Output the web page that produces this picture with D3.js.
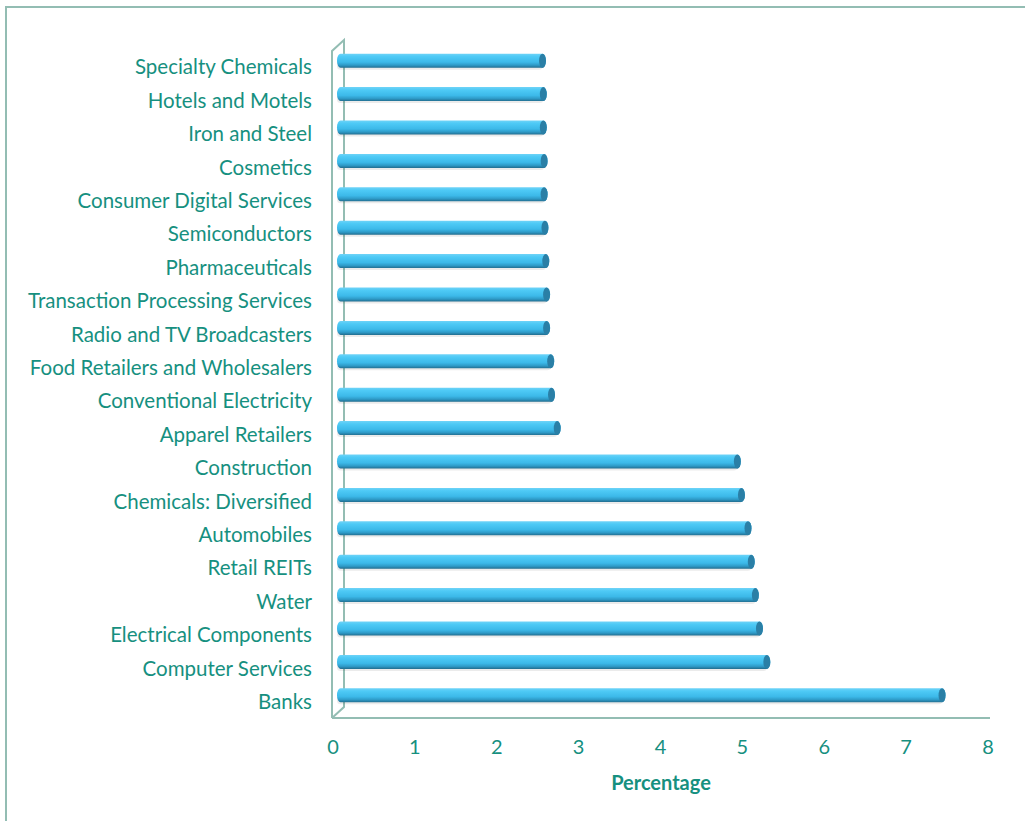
<!DOCTYPE html>
<html><head><meta charset="utf-8">
<script src="https://cdn.jsdelivr.net/npm/d3@7"></script>
<style>body{margin:0;background:#fff}svg{display:block}</style>
</head><body>
<script>
const categories = ["Specialty Chemicals","Hotels and Motels","Iron and Steel","Cosmetics","Consumer Digital Services","Semiconductors","Pharmaceuticals","Transaction Processing Services","Radio and TV Broadcasters","Food Retailers and Wholesalers","Conventional Electricity","Apparel Retailers","Construction","Chemicals: Diversified","Automobiles","Retail REITs","Water","Electrical Components","Computer Services","Banks"];
const values = [2.51,2.52,2.52,2.53,2.53,2.54,2.55,2.56,2.56,2.61,2.62,2.69,4.89,4.94,5.02,5.06,5.11,5.16,5.25,7.39];
const xTicks = [0,1,2,3,4,5,6,7,8];
const xTitle = "Percentage";

const W=1025,H=821;
const svg=d3.select("body").append("svg").attr("width",W).attr("height",H);
const txt="#16907f", frame="#93bdb3";
const font="Lato, 'Open Sans', sans-serif";

const x=d3.scaleLinear().domain([0,8]).range([333,988]);
const y=d3.scaleBand().domain(categories).range([49,717]).paddingInner(0.6).paddingOuter(0.3);

const defs=svg.append("defs");
const g=defs.append("linearGradient").attr("id","cyl").attr("x1",0).attr("y1",0).attr("x2",0).attr("y2",1);
[[0,"#6fd3f7"],[0.2,"#4ecaf6"],[0.6,"#3cb9e9"],[0.82,"#2e9ac7"],[1,"#226e90"]].forEach(s=>g.append("stop").attr("offset",s[0]).attr("stop-color",s[1]));

// outer border
svg.append("path").attr("d",`M6,${H+2}V7H${W+2}`).attr("fill","none").attr("stroke",frame).attr("stroke-width",2);

// 3D frame
const dx=11, dy=11;
const fr=svg.append("g").attr("fill","none").attr("stroke",frame).attr("stroke-width",2);
fr.append("path").attr("d",`M${x(0)-1},${718}V${51}L${x(0)+dx},${40}V${718-dy}L${x(0)-1},${718}`);
fr.append("line").attr("x1",x(0)-1).attr("x2",990).attr("y1",718).attr("y2",718);

// bars
const bh=14, off=4;
const bars=svg.append("g");
categories.forEach((c,i)=>{
  const yc=y(c)+y.bandwidth()/2-5;
  const x0=x(0)+off, x1=x(values[i])+off;
  const r=bh/2, rx=3.5;
  bars.append("rect").attr("x",x0).attr("y",yc-r+2).attr("width",x1-x0).attr("height",bh).attr("rx",rx).attr("fill","#000").attr("opacity",0.08);
  bars.append("path").attr("d",`M${x0+rx},${yc-r}H${x1}A${rx},${r} 0 0 1 ${x1},${yc+r}H${x0+rx}A${rx},${r} 0 0 1 ${x0+rx},${yc-r}Z`).attr("fill","url(#cyl)");
  bars.append("ellipse").attr("cx",x1).attr("cy",yc).attr("rx",rx).attr("ry",r).attr("fill","#2a7fa6");
});

// labels
svg.append("g").selectAll("text").data(categories).join("text")
  .attr("x",312).attr("y",d=>y(d)+y.bandwidth()/2+1.5).attr("dy","0.35em")
  .attr("text-anchor","end").attr("fill",txt).style("font-family",font).style("font-size","20.5px").text(d=>d);

// x ticks
svg.append("g").selectAll("text").data(xTicks).join("text")
  .attr("x",d=>x(d)).attr("y",747).attr("dy","0.35em").attr("text-anchor","middle")
  .attr("fill",txt).style("font-family",font).style("font-size","20px").text(d=>d);

svg.append("text").attr("x",661).attr("y",783).attr("dy","0.35em").attr("text-anchor","middle")
  .attr("fill",txt).style("font-family",font).style("font-size","20px").style("font-weight","bold").text(xTitle);
</script>
</body></html>
